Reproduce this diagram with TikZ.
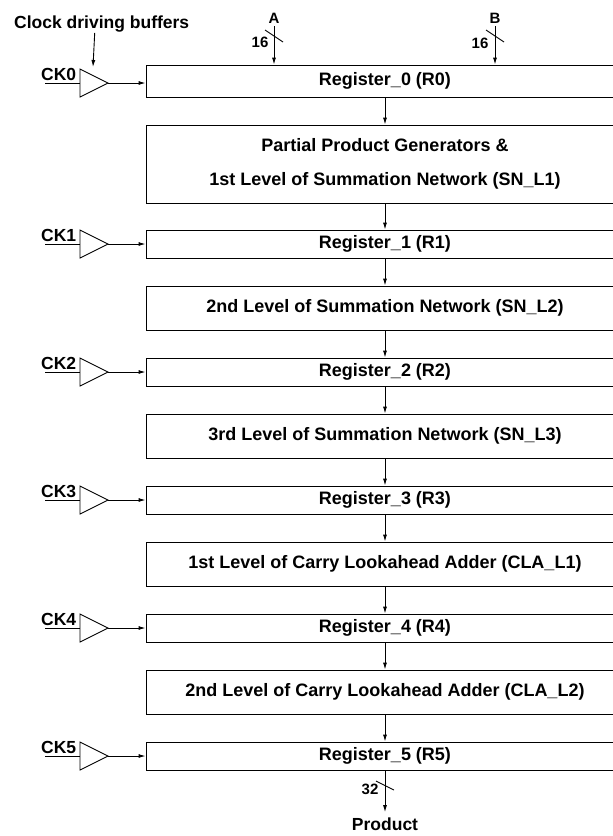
\documentclass[tikz,border=0pt]{standalone}
\usepackage{fontspec}
\setmainfont{Liberation Sans}
\usetikzlibrary{arrows.meta}

\tikzset{
  wire/.style={line width=0.9pt},
  arr/.style={wire, -{Latex[length=7pt,width=4pt]}},
  reg/.style={draw, wire, minimum width=478pt, minimum height=28pt, inner sep=0pt,
    font=\fontsize{18}{21}\selectfont\bfseries},
  blk/.style={reg, minimum height=44pt, align=center},
  lbl/.style={font=\fontsize{17.5}{20}\selectfont\bfseries, inner sep=0pt},
  buslbl/.style={font=\fontsize{15}{17}\selectfont\bfseries, inner sep=0pt},
}

\begin{document}
\begin{tikzpicture}[x=1pt, y=-1pt]
    \useasboundingbox (0,0) rectangle (613,836);
    \clip (0,0) rectangle (613,836);

    % pipeline registers
    \node[reg, minimum height=32pt] (r0) at (385,81) {Register\_0 (R0)};
    \foreach \i in {1,...,5}
      \node[reg] (r\i) at (385,{244+128*(\i-1)}) {Register\_\i{} (R\i)};

    % logic between the registers
    \node[blk, minimum height=78pt] (sn1) at (385,164)
      {Partial Product Generators \&\\[13pt]1st Level of Summation Network (SN\_L1)};
    \node[blk] (sn2) at (385,308) {2nd Level of Summation Network (SN\_L2)};
    \node[blk] (sn3) at (385,436) {3rd Level of Summation Network (SN\_L3)};
    \node[blk] (cla1) at (385,564) {1st Level of Carry Lookahead Adder (CLA\_L1)};
    \node[blk] (cla2) at (385,692) {2nd Level of Carry Lookahead Adder (CLA\_L2)};

    \foreach \a/\b in {r0/sn1, sn1/r1, r1/sn2, sn2/r2, r2/sn3, sn3/r3, r3/cla1, cla1/r4, r4/cla2, cla2/r5}
      \draw[arr] (\a.south) -- (\b.north);

    % clock buffers
    \foreach \k/\y in {0/83, 1/244, 2/372, 3/500, 4/628, 5/756} {
      \draw[wire] (80,\y-14) -- (108,\y) -- (80,\y+14) -- cycle;
      \coordinate (bin\k) at (80,\y);
      \coordinate (bout\k) at (108,\y);
      \coordinate (ck\k) at (45,\y);
      \node[lbl, anchor=base west] (cklab\k) at (41,\y-3) {CK\k};
      \draw[wire] (ck\k) -- (bin\k);
      \draw[arr] (bout\k) -- (r\k.west |- bout\k);
    }

    \node[lbl, anchor=base west] (cdb) at (14,28) {Clock driving buffers};
    \coordinate (cdbtip) at (93,67);
    \draw[arr] ([xshift=-7pt,yshift=-1pt]cdb.south) -- (cdbtip);

    % operand inputs
    \node[buslbl] (ina) at (274,18) {A};
    \node[buslbl] (inb) at (495,18) {B};
    \draw[arr] (ina.south) ++(0,3) -- (ina.south |- r0.north);
    \draw[arr] (inb.south) ++(0,3) -- (inb.south |- r0.north);
    \draw[wire] (265,30) -- (283,42);
    \draw[wire] (486,30) -- (504,42);
    \node[buslbl] (wa) at (260,42) {16};
    \node[buslbl] (wb) at (480,43) {16};

    % product output
    \node[lbl, anchor=base] (prod) at (385,830) {Product};
    \draw[arr, shorten >=5pt] (r5.south) -- (prod.north);
    \draw[wire] (376,781) -- (394,790);
    \node[buslbl] (wp) at (370,789) {32};
\end{tikzpicture}
\end{document}
